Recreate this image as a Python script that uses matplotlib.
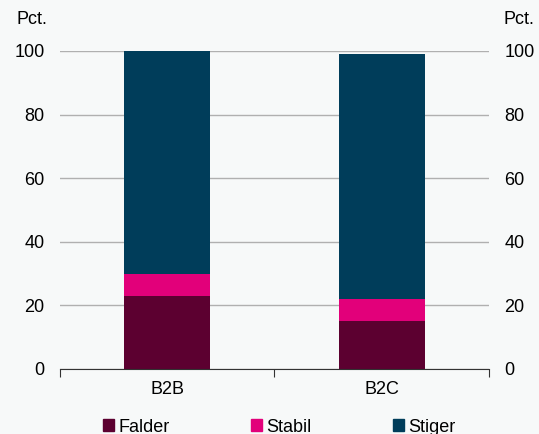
import matplotlib.pyplot as plt
import numpy as np
from matplotlib.patches import Patch

plt.rcParams['font.family'] = ['Liberation Sans', 'DejaVu Sans']

categories = ['B2B', 'B2C']
falder = [23, 15]
stabil = [7, 7]
stiger = [70, 77]

c_falder = '#5c0030'
c_stabil = '#e2007a'
c_stiger = '#003d5a'
bg = '#f7f9f9'

fig = plt.figure(figsize=(5.39, 4.34), dpi=100, facecolor=bg)
ax = fig.add_axes([0.111, 0.15, 0.796, 0.7325], facecolor=bg)

x = np.arange(len(categories))
w = 0.4
falder_a = np.array(falder)
stabil_a = np.array(stabil)
stiger_a = np.array(stiger)
ax.bar(x, falder_a, w, color=c_falder, zorder=3, clip_on=False)
ax.bar(x, stabil_a, w, bottom=falder_a, color=c_stabil, zorder=3, clip_on=False)
ax.bar(x, stiger_a, w, bottom=falder_a + stabil_a, color=c_stiger, zorder=3, clip_on=False)

ax.set_xlim(-0.5, 1.5)
ax.set_ylim(0, 100)
ax.set_yticks(range(0, 101, 20))
ax.yaxis.grid(True, color='#b0b0b0', linewidth=1, zorder=0)
ax.tick_params(axis='y', length=0, pad=11, labelsize=13, labelright=True, right=False)
ax.set_xticks([-0.5, 0.5, 1.5], minor=False)
ax.set_xticklabels([])
ax.set_xticks(x, minor=True)
ax.set_xticklabels(categories, minor=True)
ax.tick_params(axis='x', which='major', length=6, direction='out', color='#333333')
ax.tick_params(axis='x', which='minor', length=0, pad=9, labelsize=13)
for s in ['top', 'left', 'right']:
    ax.spines[s].set_visible(False)
ax.spines['bottom'].set_color('#333333')
ax.spines['bottom'].set_zorder(4)

fig.text(17 / 539, 1 - 20 / 434, 'Pct.', fontsize=13, va='center', ha='left')
fig.text(534 / 539, 1 - 20 / 434, 'Pct.', fontsize=13, va='center', ha='right')

handles = [Patch(color=c_falder, label='Falder'),
           Patch(color=c_stabil, label='Stabil'),
           Patch(color=c_stiger, label='Stiger')]
fig.legend(handles=handles, loc='center', bbox_to_anchor=(0.518, 1 - 427 / 434), ncol=3,
           frameon=False, fontsize=13, handlelength=0.6, handleheight=0.6,
           handletextpad=0.25, columnspacing=4.5)

fig.savefig('out.png', dpi=100, facecolor=bg)
